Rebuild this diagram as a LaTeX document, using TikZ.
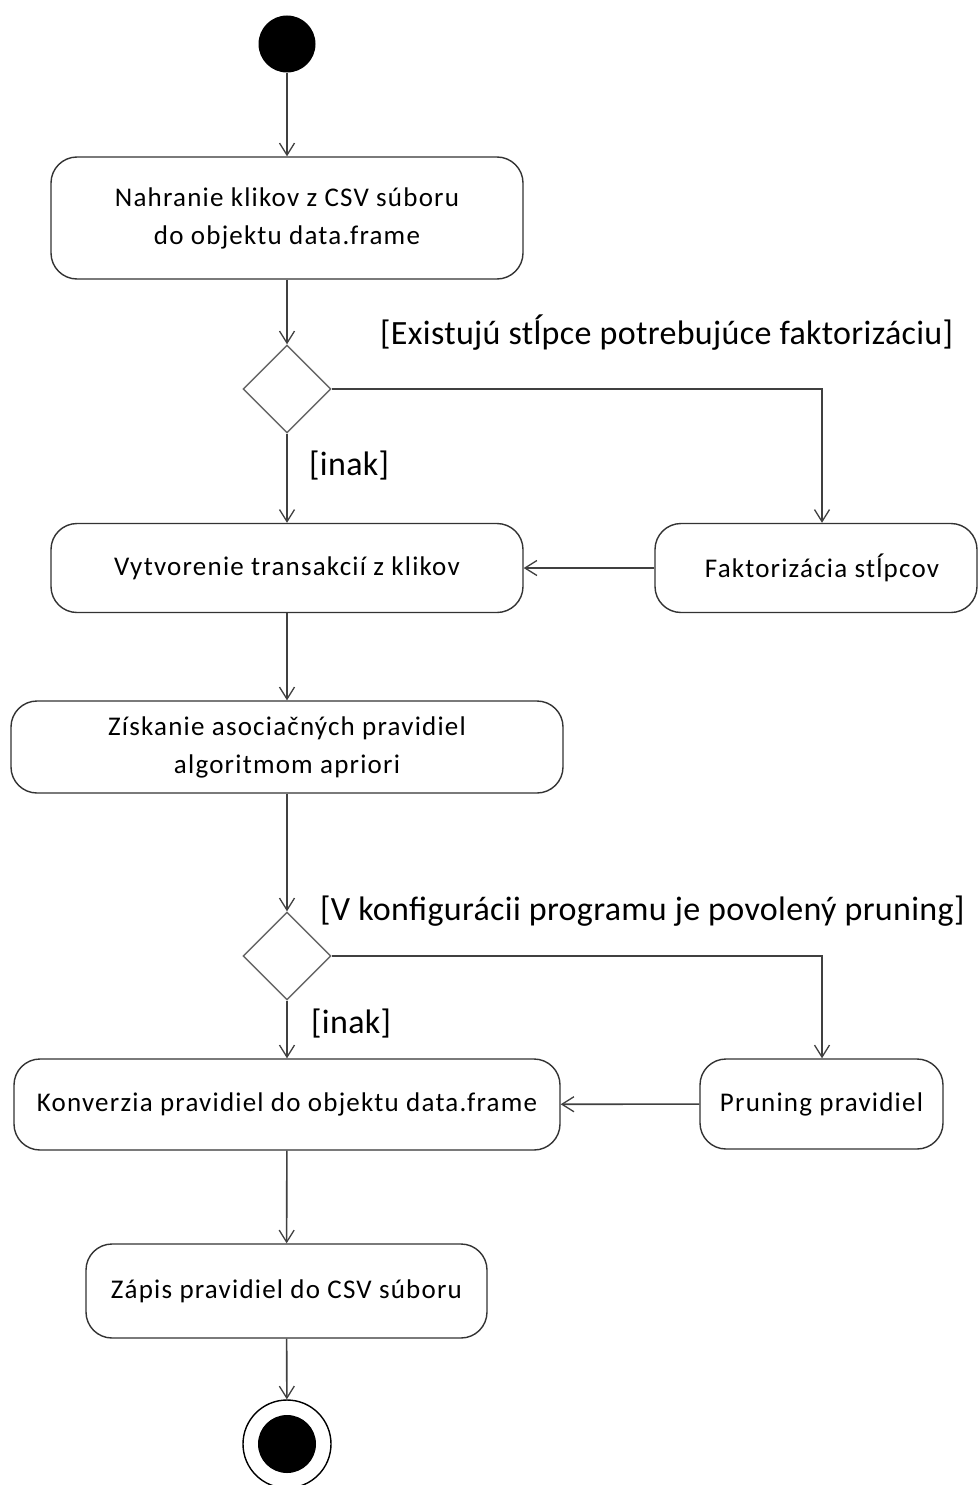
\documentclass[tikz,border=0pt]{standalone}
\usepackage{fontspec}
\setmainfont{Carlito}
\newfontfamily\boxfont[LetterSpace=4.5]{Carlito}
\newfontfamily\guardfont[LetterSpace=1]{Carlito}
\usetikzlibrary{arrows.meta,shapes.geometric}
\tikzset{
  action/.style={draw=black!80, line width=1.4pt, rounded corners=26pt, fill=white,
    align=center, inner sep=0pt, font=\boxfont\fontsize{27}{38}\selectfont},
  decision/.style={draw=black!60, line width=1.4pt, diamond, aspect=1, inner sep=0pt,
    minimum width=88pt, minimum height=88pt},
  flow/.style={draw=black!75, line width=1.6pt, -{Straight Barb[length=12pt,width=15pt,line width=1.3pt]}},
  guard/.style={font=\guardfont\fontsize{34}{40}\selectfont, inner sep=0pt, anchor=west}
}
\begin{document}
\begin{tikzpicture}[x=1pt,y=-1pt]
\useasboundingbox (0,0) rectangle (979,1485);
\fill[white] (0,0) rectangle (979,1485);

% initial node
\node[circle, fill=black, minimum size=57pt, inner sep=0pt] (start) at (287,44) {};

% actions
\node[action, minimum width=472pt, minimum height=122pt] (load) at (287,218)
  {Nahranie klikov z CSV súboru\\do objektu data.frame};
\node[decision] (d1) at (287,389) {};
\node[action, minimum width=472pt, minimum height=89pt] (trans) at (287,568)
  {Vytvorenie transakcií z klikov};
\node[action, minimum width=322pt, minimum height=89pt] (fact) at (816,568)
  {\hspace*{12pt}Faktorizácia stĺpcov};
\node[action, minimum width=552pt, minimum height=92pt] (rules) at (287,747)
  {Získanie asociačných pravidiel\\algoritmom apriori};
\node[decision] (d2) at (287,956) {};
\node[action, minimum width=546pt, minimum height=91pt] (conv) at (287,1104.5)
  {Konverzia pravidiel do objektu data.frame};
\node[action, minimum width=243pt, minimum height=90pt] (prune) at (821.5,1104)
  {Pruning pravidiel};
\node[action, minimum width=401pt, minimum height=94pt] (write) at (286.5,1291)
  {Zápis pravidiel do CSV súboru};

% final node
\node[circle, draw=black, line width=1.4pt, fill=white, minimum size=88pt, inner sep=0pt] (end) at (287,1444) {};
\node[circle, fill=black, minimum size=58pt, inner sep=0pt] (endin) at (287,1444) {};

% guards
\node[guard] (g1) at (380,333) {[Existujú stĺpce potrebujúce faktorizáciu]};
\node[guard] (g2) at (309,466) {[inak]};
\node[guard] (g3) at (320,911) {[V konfigurácii programu je povolený pruning]};
\node[guard] (g4) at (311,1024) {[inak]};

% flows
\draw[flow] (start) -- (load);
\draw[flow] (load) -- (d1.north);
\draw[flow] (d1.south) -- (trans);
\draw[flow] (d1.east) -| (fact.north -| 822,0);
\draw[flow] (fact) -- (trans);
\draw[flow] (trans) -- (rules);
\draw[flow] (rules) -- (d2.north);
\draw[flow] (d2.south) -- (conv);
\draw[flow] (d2.east) -| (prune.north -| 822,0);
\draw[flow] (prune) -- (conv);
\draw[flow] (conv) -- (write);
\draw[flow] (write) -- (end);
\end{tikzpicture}
\end{document}
